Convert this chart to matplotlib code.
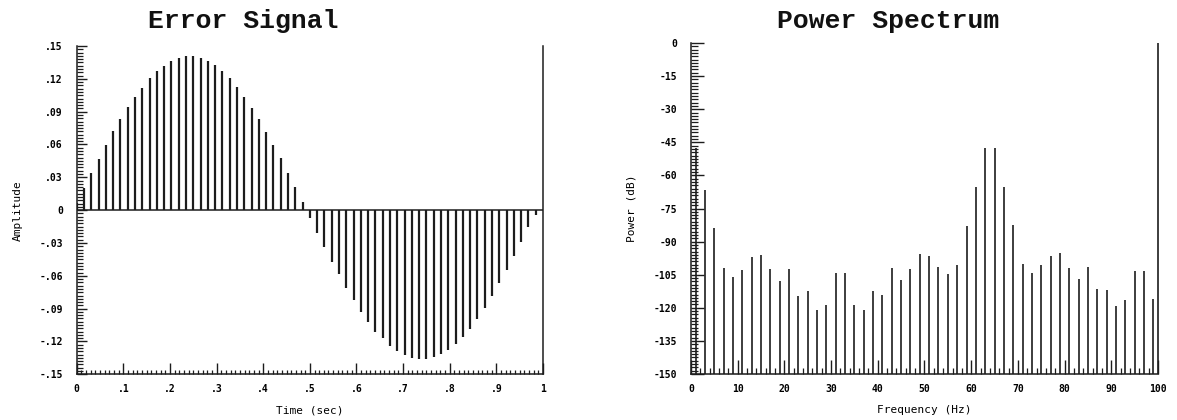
import numpy as np
import matplotlib
matplotlib.use("Agg")
import matplotlib.pyplot as plt
from matplotlib.ticker import MultipleLocator

# Error signal: 64 samples over one second (amplitude)
amplitud = [0.0069, 0.0206, 0.034, 0.0467, 0.0594, 0.0721, 0.083, 0.094,
            0.1036, 0.112, 0.1206, 0.1267, 0.132, 0.1364, 0.1394, 0.1406,
            0.1406, 0.1394, 0.1364, 0.1327, 0.1273, 0.1206, 0.1124, 0.103,
            0.0933, 0.083, 0.0715, 0.0594, 0.0473, 0.034, 0.0212, 0.0073,
            -0.0073, -0.0206, -0.034, -0.0473, -0.0588, -0.0709, -0.0824, -0.0933,
            -0.1024, -0.1115, -0.117, -0.124, -0.129, -0.132, -0.135, -0.1357,
            -0.1357, -0.134, -0.1315, -0.128, -0.1224, -0.1158, -0.1085, -0.0994,
            -0.089, -0.0788, -0.067, -0.055, -0.042, -0.029, -0.0158, -0.004]
tiempo = np.arange(len(amplitud)) / len(amplitud)

# Power spectrum (dB) at odd frequencies plus 100 Hz
frecuencias = list(range(1, 100, 2)) + [100]
potencia = [-47.4, -66.5, -83.8, -102.0, -106.2, -102.9, -97.1, -96.2, -102.6, -108.0,
            -102.6, -114.7, -112.3, -120.8, -118.9, -104.1, -104.4, -118.9, -120.8, -112.3,
            -114.0, -102.0, -107.6, -102.5, -95.6, -96.5, -101.7, -104.7, -100.7, -82.8,
            -65.2, -47.4, -47.4, -65.2, -82.3, -100.2, -104.4, -100.8, -96.5, -95.3,
            -102.0, -107.1, -101.7, -111.7, -112.0, -119.2, -116.5, -103.2, -103.2, -116.2,
            0.0]

ticks_amp = [-0.15, -0.12, -0.09, -0.06, -0.03, 0, 0.03, 0.06, 0.09, 0.12, 0.15]
etiq_amp = ['-.15', '-.12', '-.09', '-.06', '-.03', '0', '.03', '.06', '.09', '.12', '.15']
ticks_t = [0, 0.1, 0.2, 0.3, 0.4, 0.5, 0.6, 0.7, 0.8, 0.9, 1.0]
etiq_t = ['0', '.1', '.2', '.3', '.4', '.5', '.6', '.7', '.8', '.9', '1']
ticks_db = [0, -15, -30, -45, -60, -75, -90, -105, -120, -135, -150]
ticks_f = [0, 10, 20, 30, 40, 50, 60, 70, 80, 90, 100]

negro = '#1c1c1c'
fuente_ticks = dict(family='DejaVu Sans Mono', weight='bold', size=7)
fuente_ejes = dict(family='DejaVu Sans Mono', size=8)
fuente_titulo = dict(family='Liberation Mono', weight='bold', size=19)

fig = plt.figure(figsize=(11.77, 4.2), dpi=100)
ax1 = fig.add_axes([0.0652, 0.1088, 0.3961, 0.7817])
ax2 = fig.add_axes([0.587, 0.1095, 0.3969, 0.7881])

# --- Error signal ---
ax1.vlines(tiempo, 0, amplitud, color=negro, linewidth=1.6)
ax1.hlines(0, 0, 1, color=negro, linewidth=1.1)
ax1.set_xlim(0, 1)
ax1.set_ylim(-0.15, 0.15)
ax1.set_yticks(ticks_amp)
ax1.set_yticklabels(etiq_amp, **fuente_ticks)
ax1.set_xticks(ticks_t)
ax1.set_xticklabels(etiq_t, **fuente_ticks)
ax1.xaxis.set_minor_locator(MultipleLocator(0.01))
ax1.yaxis.set_minor_locator(MultipleLocator(0.003))
ax1.tick_params(axis='y', which='major', direction='in', length=7, width=1.0, color=negro, pad=10)
ax1.tick_params(axis='y', which='minor', direction='in', length=4, width=0.9, color=negro)
ax1.tick_params(axis='x', which='major', direction='in', length=8, width=1.0, color=negro, pad=7)
ax1.tick_params(axis='x', which='minor', direction='in', length=3, width=0.9, color=negro)
ax1.spines['top'].set_visible(False)
for s in ['left', 'bottom', 'right']:
    ax1.spines[s].set_color(negro)
    ax1.spines[s].set_linewidth(1.1)
ax1.set_ylabel('Amplitude', labelpad=12, **fuente_ejes)
ax1.set_xlabel('Time (sec)', labelpad=8, **fuente_ejes)

# --- Power spectrum ---
ax2.vlines(frecuencias, -150, potencia, color=negro, linewidth=1.2, clip_on=False)
ax2.set_xlim(0, 100)
ax2.set_ylim(-150, 0)
ax2.set_yticks(ticks_db)
ax2.set_yticklabels([str(v) for v in ticks_db], **fuente_ticks)
ax2.set_xticks(ticks_f)
ax2.set_xticklabels([str(v) for v in ticks_f], **fuente_ticks)
ax2.xaxis.set_minor_locator(MultipleLocator(2))
ax2.yaxis.set_minor_locator(MultipleLocator(1.5))
ax2.tick_params(axis='y', which='major', direction='in', length=9, width=1.0, color=negro, pad=10)
ax2.tick_params(axis='y', which='minor', direction='in', length=5, width=0.9, color=negro)
ax2.tick_params(axis='x', which='major', direction='in', length=10, width=1.0, color=negro, pad=7)
ax2.tick_params(axis='x', which='minor', direction='in', length=4.5, width=0.9, color=negro)
ax2.spines['top'].set_visible(False)
ax2.spines['right'].set_visible(False)
for s in ['left', 'bottom']:
    ax2.spines[s].set_color(negro)
    ax2.spines[s].set_linewidth(1.1)
ax2.set_ylabel('Power (dB)', labelpad=12, **fuente_ejes)
ax2.set_xlabel('Frequency (Hz)', labelpad=8, **fuente_ejes)

# Titulos (desplazados a la izquierda como en el original)
fig.text(243 / 1177, 1 - 21 / 420, 'Error Signal', ha='center', va='center', color='#111111', **fuente_titulo)
fig.text(888 / 1177, 1 - 21 / 420, 'Power Spectrum', ha='center', va='center', color='#111111', **fuente_titulo)

fig.savefig('out.png', dpi=100, facecolor='white')
